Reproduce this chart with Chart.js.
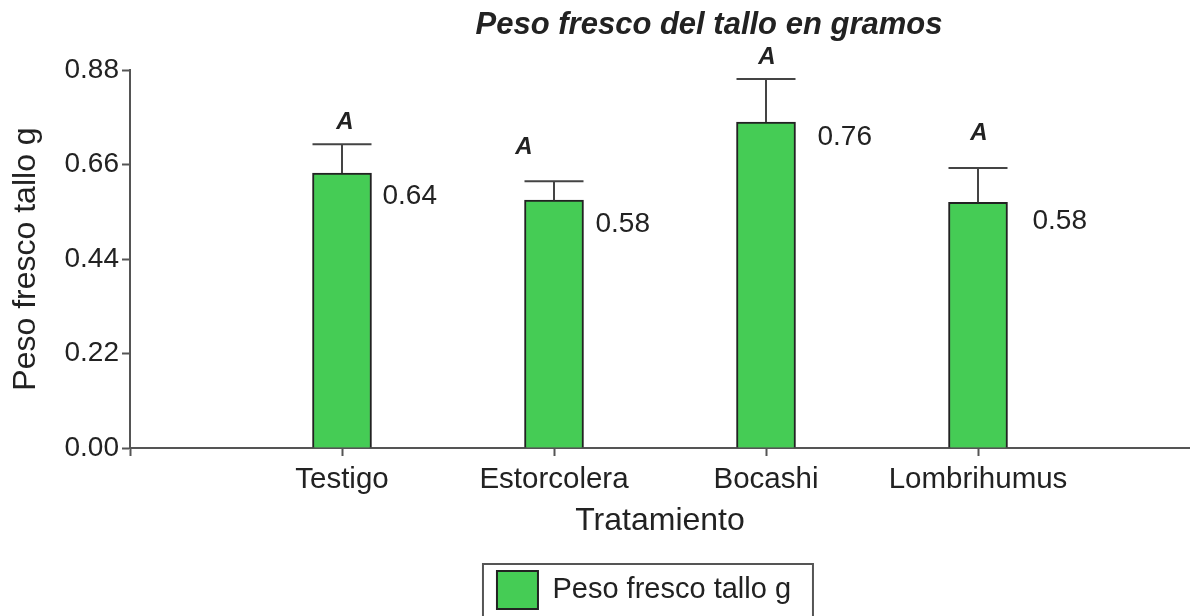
<!DOCTYPE html>
<html>
<head>
<meta charset="utf-8">
<script src="https://cdn.jsdelivr.net/npm/chart.js@4.4.1/dist/chart.umd.min.js"></script>
<style>
  html, body { margin: 0; padding: 0; background: #fff; }
  #wrap { width: 1190px; height: 616px; }
</style>
</head>
<body>
<div id="wrap"><canvas id="pesoChart"></canvas></div>
<script>
// data
const titleText = 'Peso fresco del tallo en gramos';
const categories = ['Testigo', 'Estorcolera', 'Bocashi', 'Lombrihumus'];
const means = [0.64, 0.577, 0.759, 0.572];
const errUp = [0.067, 0.044, 0.100, 0.080];
const valueLabels = ['0.64', '0.58', '0.76', '0.58'];
const letters = ['A', 'A', 'A', 'A'];
const yTicks = [0, 0.22, 0.44, 0.66, 0.88];

const FONT = "'Liberation Sans', Arial, sans-serif";
const TXT = '#222';
const AXIS = '#555';
const LEGEND_SHIFT = -16;

// empty slots on both ends so the bars sit at 1..4 on a 0..5 axis
const labels = [''].concat(categories, ['']);
const barData = [null].concat(means, [null]);

// error bars, letters, value labels, title, legend frame
const extras = {
  id: 'extras',
  beforeDraw(chart) {
    // nudge the legend a bit to the left, like the original
    const lg = chart.legend;
    if (!lg._shifted) {
      lg.left += LEGEND_SHIFT;
      lg.right += LEGEND_SHIFT;
      lg._shifted = true;
    }
  },
  afterDatasetsDraw(chart, args, opts) {
    const ctx = chart.ctx;
    const y = chart.scales.y;
    const meta = chart.getDatasetMeta(0);
    ctx.save();
    meta.data.forEach((bar, i) => {
      const k = i - 1;
      if (k < 0 || k >= means.length) return;
      const w = bar.width;
      const yTop = y.getPixelForValue(means[k] + errUp[k]);
      // error bar
      ctx.strokeStyle = '#444';
      ctx.lineWidth = 2;
      ctx.beginPath();
      ctx.moveTo(bar.x, bar.y);
      ctx.lineTo(bar.x, yTop);
      ctx.moveTo(bar.x - w / 2, yTop);
      ctx.lineTo(bar.x + w / 2, yTop);
      ctx.stroke();
      // letter
      const lo = opts.letterOffsets[k];
      ctx.fillStyle = TXT;
      ctx.font = 'italic bold 24px ' + FONT;
      ctx.textAlign = 'center';
      ctx.textBaseline = 'middle';
      ctx.fillText(letters[k], bar.x + lo[0], yTop + lo[1]);
      // value
      const vo = opts.valueOffsets[k];
      ctx.font = '28px ' + FONT;
      ctx.textAlign = 'left';
      ctx.fillText(valueLabels[k], bar.x + w / 2 + vo[0], bar.y + vo[1]);
    });
    ctx.restore();
  },
  afterDraw(chart) {
    const ctx = chart.ctx;
    ctx.save();
    ctx.fillStyle = TXT;
    ctx.font = 'italic bold 31px ' + FONT;
    ctx.textAlign = 'center';
    ctx.textBaseline = 'middle';
    ctx.fillText(titleText, 709, 25);
    // frame round the legend
    const hb = chart.legend.legendHitBoxes[0];
    if (hb) {
      ctx.strokeStyle = '#555';
      ctx.lineWidth = 2;
      ctx.strokeRect(hb.left + LEGEND_SHIFT - 14, hb.top - 7, 330, 70);
    }
    ctx.restore();
  }
};

new Chart(document.getElementById('pesoChart'), {
  type: 'bar',
  data: {
    labels: labels,
    datasets: [{
      label: 'Peso fresco tallo g',
      data: barData,
      backgroundColor: '#45CC55',
      borderColor: '#222',
      borderWidth: 2,
      barThickness: 59
    }]
  },
  plugins: [extras],
  options: {
    responsive: true,
    maintainAspectRatio: false,
    animation: false,
    layout: { padding: { top: 70, left: 0, right: 0, bottom: -3 } },
    plugins: {
      title: { display: false },
      tooltip: { enabled: false },
      legend: {
        position: 'bottom',
        fullSize: false,
        labels: {
          boxWidth: 41,
          boxHeight: 38,
          padding: 10,
          color: TXT,
          font: { family: FONT, size: 29 }
        }
      },
      extras: {
        letterOffsets: [[3, -22], [-30, -34], [1, -22], [1, -35]],
        valueOffsets: [[11, 23], [12, 24], [22, 15], [25, 19]]
      }
    },
    scales: {
      x: {
        offset: false,
        afterFit: s => { s.height = 113; },
        grid: {
          offset: false,
          drawOnChartArea: false,
          tickLength: 8,
          tickWidth: 2,
          tickColor: c => (c.index === labels.length - 1 ? 'transparent' : AXIS)
        },
        border: { color: AXIS, width: 2 },
        ticks: {
          color: TXT,
          padding: 0,
          maxRotation: 0,
          autoSkip: false,
          font: { family: FONT, size: 29.5, lineHeight: 1.62 }
        },
        title: {
          display: true,
          text: 'Tratamiento',
          color: TXT,
          font: { family: FONT, size: 32 },
          padding: { top: 0, bottom: 21 }
        }
      },
      y: {
        min: 0,
        max: 0.88,
        afterFit: s => { s.width = 130; },
        afterBuildTicks: s => { s.ticks = yTicks.map(v => ({ value: v })); },
        grid: {
          drawOnChartArea: false,
          tickLength: 8,
          tickWidth: 2,
          tickColor: AXIS
        },
        border: { color: AXIS, width: 2 },
        ticks: {
          color: TXT,
          padding: 3,
          font: { family: FONT, size: 28 },
          callback: v => v.toFixed(2)
        },
        title: {
          display: true,
          text: 'Peso fresco tallo g',
          color: TXT,
          font: { family: FONT, size: 32 },
          padding: { top: 7, bottom: 0 }
        }
      }
    }
  }
});
</script>
</body>
</html>
